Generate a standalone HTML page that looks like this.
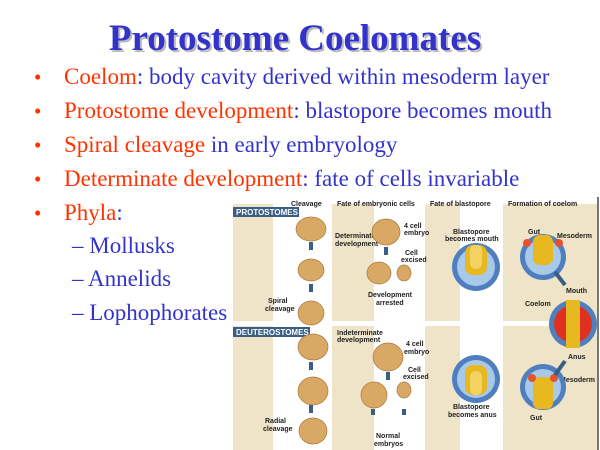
<!DOCTYPE html>
<html><head><meta charset="utf-8"><style>
body{margin:0;width:600px;height:450px;background:#fff;position:relative;overflow:hidden;font-family:"Liberation Serif",serif}
.t{position:absolute;left:0;width:600px;top:17px;text-align:center;font-weight:bold;font-size:37px;color:#3333cc;text-shadow:2px 2px 0 #bbb;padding-right:10px;box-sizing:border-box}
.l{position:absolute;font-size:23px;color:#3333cc;white-space:nowrap}
.r{color:#ff3300}
.b{position:absolute;left:34px;font-size:21px;color:#ff3300}
</style></head><body>
<div class="t">Protostome Coelomates</div>
<div class="b" style="top:65px">•</div><div class="l" style="left:64px;top:64px"><span class="r">Coelom</span>: body cavity derived within mesoderm layer</div>
<div class="b" style="top:99px">•</div><div class="l" style="left:64px;top:98px"><span class="r">Protostome development</span>: blastopore becomes mouth</div>
<div class="b" style="top:133px">•</div><div class="l" style="left:64px;top:132px"><span class="r">Spiral cleavage</span> in early embryology</div>
<div class="b" style="top:167px">•</div><div class="l" style="left:64px;top:166px"><span class="r">Determinate development</span>: fate of cells invariable</div>
<div class="b" style="top:201px">•</div><div class="l" style="left:64px;top:200px"><span class="r">Phyla</span>:</div>
<div class="l" style="left:72px;top:233px">– Mollusks</div>
<div class="l" style="left:72px;top:266px">– Annelids</div>
<div class="l" style="left:72px;top:300px">– Lophophorates</div>
<svg style="position:absolute;left:233px;top:197px" width="367" height="253">
<rect x="0" y="0" width="40" height="253" fill="#efe3c8"/>
<rect x="99" y="0" width="42" height="253" fill="#efe3c8"/>
<rect x="192" y="0" width="35" height="253" fill="#efe3c8"/>
<rect x="270" y="0" width="95" height="253" fill="#efe3c8"/>
<rect x="0" y="0" width="365" height="7" fill="#fff"/>
<rect x="0" y="124" width="365" height="5" fill="#fff"/>
<rect x="364" y="0" width="2" height="253" fill="#777"/>
<rect x="0" y="10" width="66" height="10" fill="#3a5f86"/>
<text x="3" y="18" font-size="8" fill="#fff" font-family="Liberation Sans" font-weight="bold">PROTOSTOMES</text>
<rect x="0" y="130" width="77" height="10" fill="#3a5f86"/>
<text x="3" y="138" font-size="8" fill="#fff" font-family="Liberation Sans" font-weight="bold">DEUTEROSTOMES</text>
<g font-family="Liberation Sans" font-size="7" font-weight="bold" fill="#222">
<text x="58" y="9">Cleavage</text><text x="104" y="9">Fate of embryonic cells</text>
<text x="197" y="9">Fate of blastopore</text><text x="275" y="9">Formation of coelom</text>
<text x="35" y="106">Spiral</text><text x="32" y="114">cleavage</text>
<text x="32" y="226">Radial</text><text x="30" y="234">cleavage</text>
<text x="102" y="41">Determinate</text><text x="102" y="49">development</text>
<text x="171" y="31">4 cell</text><text x="171" y="38">embryo</text>
<text x="172" y="58">Cell</text><text x="168" y="65">excised</text>
<text x="135" y="100">Development</text><text x="143" y="108">arrested</text>
<text x="104" y="138">Indeterminate</text><text x="104" y="145">development</text>
<text x="173" y="149">4 cell</text><text x="171" y="157">embryo</text>
<text x="175" y="175">Cell</text><text x="170" y="182">excised</text>
<text x="143" y="241">Normal</text><text x="141" y="249">embryos</text>
<text x="220" y="37">Blastopore</text><text x="212" y="44">becomes mouth</text>
<text x="220" y="212">Blastopore</text><text x="215" y="220">becomes anus</text>
<text x="295" y="37">Gut</text><text x="324" y="41">Mesoderm</text>
<text x="333" y="96">Mouth</text><text x="292" y="109">Coelom</text>
<text x="335" y="162">Anus</text><text x="327" y="185">Mesoderm</text><text x="297" y="223">Gut</text>
</g>
<g fill="#d9a865" stroke="#a87a3c" stroke-width="0.7">
<ellipse cx="78" cy="32" rx="15" ry="12"/><ellipse cx="78" cy="73" rx="13" ry="11"/><ellipse cx="78" cy="116" rx="13" ry="12"/>
<ellipse cx="153" cy="35" rx="14" ry="13"/><ellipse cx="146" cy="76" rx="12" ry="11"/><ellipse cx="171" cy="76" rx="7" ry="8"/>
<ellipse cx="80" cy="150" rx="15" ry="13"/><ellipse cx="80" cy="194" rx="15" ry="14"/><ellipse cx="80" cy="234" rx="14" ry="13"/>
<ellipse cx="155" cy="160" rx="15" ry="14"/><ellipse cx="141" cy="198" rx="13" ry="13"/><ellipse cx="171" cy="193" rx="7" ry="8"/>
</g>
<g fill="#3a5f86"><rect x="76" y="45" width="4" height="8"/><rect x="76" y="87" width="4" height="8"/>
<rect x="76" y="165" width="4" height="8"/><rect x="76" y="208" width="4" height="8"/>
<rect x="151" y="50" width="4" height="8"/><rect x="153" y="175" width="4" height="8"/>
<rect x="138" y="212" width="4" height="6"/><rect x="169" y="212" width="4" height="6"/></g>
<g>
<circle cx="243" cy="70" r="24" fill="#4f7fbf"/><circle cx="243" cy="70" r="19" fill="#a9c9e8"/><rect x="232" y="48" width="22" height="30" rx="8" fill="#e8b820"/><rect x="237" y="48" width="12" height="24" rx="5" fill="#f3d262"/>
<circle cx="243" cy="182" r="24" fill="#4f7fbf"/><circle cx="243" cy="182" r="19" fill="#a9c9e8"/><rect x="232" y="168" width="22" height="30" rx="8" fill="#e8b820"/><rect x="237" y="174" width="12" height="24" rx="5" fill="#f3d262"/>
<circle cx="310" cy="60" r="23" fill="#4f7fbf"/><circle cx="310" cy="60" r="18" fill="#a9c9e8"/><rect x="300" y="38" width="20" height="30" rx="7" fill="#e8b820"/><circle cx="294" cy="46" r="4" fill="#e85030"/><circle cx="326" cy="46" r="4" fill="#e85030"/>
<circle cx="340" cy="127" r="24" fill="#4f7fbf"/><circle cx="340" cy="127" r="19" fill="#e03020"/><rect x="333" y="103" width="14" height="48" fill="#e8b820"/>
<circle cx="310" cy="190" r="23" fill="#4f7fbf"/><circle cx="310" cy="190" r="18" fill="#a9c9e8"/><rect x="300" y="180" width="20" height="32" rx="6" fill="#e8b820"/><circle cx="299" cy="181" r="4" fill="#e85030"/><circle cx="321" cy="181" r="4" fill="#e85030"/>
<path d="M322 75 L332 88" stroke="#3a5f86" stroke-width="4"/><path d="M322 178 L332 164" stroke="#3a5f86" stroke-width="4"/>
</g>
</svg>
</body></html>
